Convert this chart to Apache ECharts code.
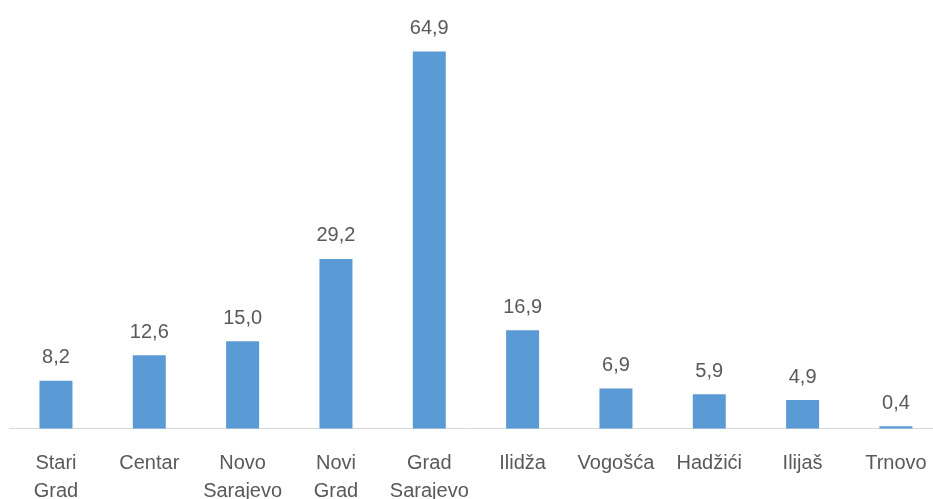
<!DOCTYPE html>
<html>
<head>
<meta charset="utf-8">
<title>Općine</title>
<script src="https://cdn.jsdelivr.net/npm/echarts@6/dist/echarts.min.js"></script>
<style>
  html, body { margin: 0; padding: 0; background: #fff; }
  #chart { width: 933px; height: 499px; }
</style>
</head>
<body>
<div id="chart"></div>
<script>
// podaci
const categories = ['Stari Grad', 'Centar', 'Novo Sarajevo', 'Novi Grad', 'Grad Sarajevo',
  'Ilidža', 'Vogošća', 'Hadžići', 'Ilijaš', 'Trnovo']
const values = [8.2, 12.6, 15.0, 29.2, 64.9, 16.9, 6.9, 5.9, 4.9, 0.4]

const textColor = '#595959'
const fontFamily = '"Liberation Sans", "Noto Sans", sans-serif'

let chart = echarts.init(document.getElementById('chart'))

const option = {
  animation: false,
  grid: {
    left: 9.3,
    top: 21.9,
    width: 933.3,
    height: 406.6,
    containLabel: false,
    outerBoundsMode: 'none'
  },
  xAxis: {
    type: 'category',
    data: categories,
    axisLine: { lineStyle: { color: '#d9d9d9', width: 1 } },
    axisTick: { show: false },
    axisLabel: {
      color: textColor,
      fontSize: 20,
      lineHeight: 28,
      fontFamily: fontFamily,
      margin: 21,
      interval: 0,
      hideOverlap: false,
      formatter: function (v) { return v.replace(' ', '\n') }
    }
  },
  yAxis: {
    type: 'value',
    min: 0,
    max: 70,
    show: false,
    splitLine: { show: false }
  },
  series: [{
    type: 'bar',
    data: values,
    barWidth: 33,
    itemStyle: { color: '#5b9bd5' },
    label: {
      show: true,
      position: 'top',
      distance: 13,
      color: textColor,
      fontSize: 20,
      fontFamily: fontFamily,
      formatter: function (p) { return p.value.toFixed(1).replace('.', ',') }
    }
  }]
}

chart.setOption(option)
</script>
</body>
</html>
